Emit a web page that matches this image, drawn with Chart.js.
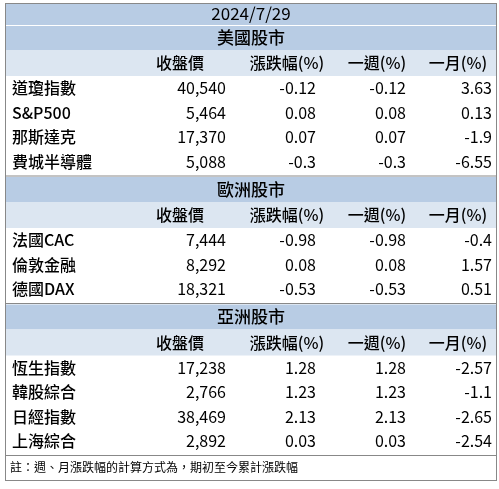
<!DOCTYPE html>
<html><head><meta charset="utf-8">
<script src="https://cdn.jsdelivr.net/npm/chart.js@4"></script>
<style>html,body{margin:0;padding:0;background:#fff}#wrap{width:499px;height:489px}</style>
</head><body><div id="wrap"><canvas id="c"></canvas></div>
<script>
const title = "2024/7/29";
const columns = ["收盤價", "漲跌幅(%)", "一週(%)", "一月(%)"];
const sections = ["美國股市", "歐洲股市", "亞洲股市"];
const names = [
    ["道瓊指數", "S&P500", "那斯達克", "費城半導體"],
    ["法國CAC", "倫敦金融", "德國DAX"],
    ["恆生指數", "韓股綜合", "日經指數", "上海綜合"]
];
const close = [["40,540", "5,464", "17,370", "5,088"], ["7,444", "8,292", "18,321"], ["17,238", "2,766", "38,469", "2,892"]];
const change = [["-0.12", "0.08", "0.07", "-0.3"], ["-0.98", "0.08", "-0.53"], ["1.28", "1.23", "2.13", "0.03"]];
const week = [["-0.12", "0.08", "0.07", "-0.3"], ["-0.98", "0.08", "-0.53"], ["1.28", "1.23", "2.13", "0.03"]];
const month = [["3.63", "0.13", "-1.9", "-6.55"], ["-0.4", "1.57", "0.51"], ["-2.57", "-1.1", "-2.65", "-2.54"]];
const note = "註：週、月漲跌幅的計算方式為，期初至今累計漲跌幅";

const font = '"Noto Sans CJK TC", sans-serif';
const colRight = [226, 316, 406, 492];
const headCenter = [180, 287, 377, 458];

const tablePlugin = {
    id: 'table',
    afterDraw(chart) {
        const ctx = chart.ctx;
        const x = v => chart.scales.x.getPixelForValue(v);
        const y = v => chart.scales.y.getPixelForValue(v);
        const rect = (x0, y0, x1, y1, c) => { ctx.fillStyle = c; ctx.fillRect(x(x0), y(y0), x(x1) - x(x0), y(y1) - y(y0)); };
        const hline = (yy, c) => { ctx.strokeStyle = c; ctx.lineWidth = 1; ctx.beginPath(); ctx.moveTo(x(5), y(yy) + 0.5); ctx.lineTo(x(497), y(yy) + 0.5); ctx.stroke(); };
        const text = (s, xx, yy, align, size, w) => { ctx.fillStyle = '#000'; ctx.font = (w || 400) + ' ' + size + 'px ' + font; ctx.textAlign = align; ctx.textBaseline = 'middle'; ctx.fillText(s, x(xx), y(yy)); };
        ctx.save();
        rect(5, 3, 497, 50, '#b8cce4');
        text(title, 251, 14, 'center', 17);
        hline(25, '#ffffff');
        let top = 25;
        sections.forEach((sec, s) => {
            if (s > 0) rect(5, top, 497, top + 25, '#b8cce4');
            text(sec, 251, top + 12.5, 'center', 17, 500);
            rect(5, top + 25, 497, top + 51, '#dce6f1');
            columns.forEach((c, i) => text(c, headCenter[i], top + 38, 'center', 16, 500));
            let ry = top + 51;
            names[s].forEach((n, r) => {
                const cy = ry + 12 + r * 24.5;
                text(n, 12, cy, 'left', 16, 500);
                [close, change, week, month].forEach((arr, i) => text(arr[s][r], colRight[i], cy, 'right', 16));
            });
            top = ry + names[s].length * 24.5 + 3;
            hline(top - 1.5, '#888');
        });
        text(note, 10, 467, 'left', 12);
        ctx.strokeStyle = '#888';
        ctx.lineWidth = 1;
        ctx.strokeRect(x(5) + 0.5, y(3) + 0.5, x(497) - x(5) - 1, y(480) - y(3));
        ctx.restore();
    }
};

new Chart(document.getElementById('c'), {
    type: 'scatter',
    data: { datasets: [{ data: [] }] },
    options: {
        responsive: true,
        maintainAspectRatio: false,
        animation: false,
        layout: { padding: 0 },
        plugins: { legend: { display: false }, tooltip: { enabled: false } },
        scales: {
            x: { type: 'linear', min: 0, max: 499, display: false },
            y: { type: 'linear', min: 0, max: 489, reverse: true, display: false }
        }
    },
    plugins: [tablePlugin]
});
</script>
</body></html>
